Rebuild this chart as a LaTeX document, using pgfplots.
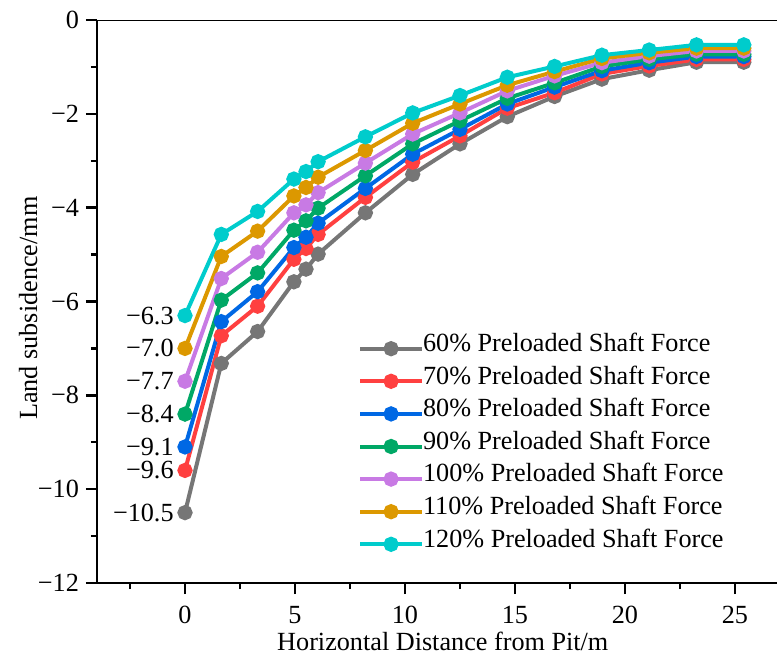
\documentclass[border=0pt]{standalone}
\usepackage{pgfplots}
\pgfplotsset{compat=1.18}
\usepackage{fontspec}
\setmainfont{Liberation Serif}
\usetikzlibrary{calc}
\definecolor{cgray}{RGB}{118,118,118}
\definecolor{cred}{RGB}{255,64,64}
\definecolor{cblue}{RGB}{0,104,228}
\definecolor{cgreen}{RGB}{0,168,102}
\definecolor{cpurple}{RGB}{200,122,228}
\definecolor{corange}{RGB}{220,152,0}
\definecolor{ccyan}{RGB}{0,204,204}
\begin{document}
\begin{tikzpicture}
\begin{axis}[
  scale only axis, width=341pt, height=281.5pt,
  xmin=-4, xmax=27, ymin=-12, ymax=0,
  axis x line*=bottom, axis y line*=left,
  x axis line style={-}, y axis line style={-},
  axis line style={line width=1.2pt},
  tick align=outside,
  xtick={0,5,10,15,20,25}, minor xtick={-2.5,2.5,7.5,12.5,17.5,22.5},
  ytick={-12,-10,-8,-6,-4,-2,0}, yticklabels={−12,−10,−8,−6,−4,−2,0},
  minor ytick={-11,-9,-7,-5,-3,-1},
  major tick length=5.5pt, minor tick length=3pt,
  every tick/.style={line width=1.2pt, black},
  font=\fontsize{13.1}{16}\selectfont,
  /pgf/number format/assume math mode=true,
  xticklabel style={yshift=-2.5pt},
  xlabel={Horizontal Distance from Pit/m},
  ylabel={Land subsidence/mm},
  xlabel style={at={(axis description cs:0.507,0)}, anchor=base, yshift=-33.5pt},
  ylabel style={at={(axis description cs:-0.101,0.488)}, anchor=center},
  legend style={draw=none, fill=none, at={(axis cs:7.85,-6.65)}, anchor=north west,
    inner sep=0pt, row sep=0pt, column sep=-0.5pt, cells={anchor=west},
    nodes={inner sep=0pt, text height=9.5pt, text depth=6.8pt},
    font=\fontsize{13.1}{16}\selectfont},
  legend image code/.code={\draw[mark repeat=2, mark phase=2] plot coordinates {(0pt,0pt)(15.5pt,0pt)(31pt,0pt)};},
  every axis plot/.append style={line width=2pt, mark=*, mark size=2.8pt, mark options={solid, line width=0.5pt}},
]
\addplot[cgray, mark options={fill=cgray}] coordinates {(0,-10.5)(1.65,-7.32)(3.3,-6.64)(4.95,-5.58)(5.5,-5.31)(6.05,-4.99)(8.2,-4.11)(10.35,-3.29)(12.5,-2.64)(14.65,-2.06)(16.8,-1.63)(18.95,-1.26)(21.1,-1.07)(23.25,-0.9)(25.4,-0.9)};
\addlegendentry{60\% Preloaded Shaft Force}
\addplot[cred, mark options={fill=cred}] coordinates {(0,-9.6)(1.65,-6.73)(3.3,-6.1)(4.95,-5.1)(5.5,-4.87)(6.05,-4.57)(8.2,-3.78)(10.35,-3.03)(12.5,-2.47)(14.65,-1.88)(16.8,-1.55)(18.95,-1.15)(21.1,-0.98)(23.25,-0.84)(25.4,-0.84)};
\addlegendentry{70\% Preloaded Shaft Force}
\addplot[cblue, mark options={fill=cblue}] coordinates {(0,-9.1)(1.65,-6.43)(3.3,-5.79)(4.95,-4.85)(5.5,-4.63)(6.05,-4.33)(8.2,-3.59)(10.35,-2.86)(12.5,-2.33)(14.65,-1.79)(16.8,-1.43)(18.95,-1.08)(21.1,-0.91)(23.25,-0.78)(25.4,-0.78)};
\addlegendentry{80\% Preloaded Shaft Force}
\addplot[cgreen, mark options={fill=cgreen}] coordinates {(0,-8.4)(1.65,-5.97)(3.3,-5.39)(4.95,-4.48)(5.5,-4.28)(6.05,-4.01)(8.2,-3.32)(10.35,-2.64)(12.5,-2.15)(14.65,-1.67)(16.8,-1.34)(18.95,-0.99)(21.1,-0.84)(23.25,-0.73)(25.4,-0.73)};
\addlegendentry{90\% Preloaded Shaft Force}
\addplot[cpurple, mark options={fill=cpurple}] coordinates {(0,-7.7)(1.65,-5.51)(3.3,-4.95)(4.95,-4.11)(5.5,-3.94)(6.05,-3.68)(8.2,-3.05)(10.35,-2.43)(12.5,-1.98)(14.65,-1.51)(16.8,-1.19)(18.95,-0.91)(21.1,-0.77)(23.25,-0.66)(25.4,-0.66)};
\addlegendentry{100\% Preloaded Shaft Force}
\addplot[corange, mark options={fill=corange}] coordinates {(0,-7.0)(1.65,-5.04)(3.3,-4.5)(4.95,-3.75)(5.5,-3.57)(6.05,-3.35)(8.2,-2.78)(10.35,-2.2)(12.5,-1.79)(14.65,-1.39)(16.8,-1.1)(18.95,-0.82)(21.1,-0.7)(23.25,-0.6)(25.4,-0.6)};
\addlegendentry{110\% Preloaded Shaft Force}
\addplot[ccyan, mark options={fill=ccyan}] coordinates {(0,-6.3)(1.65,-4.57)(3.3,-4.08)(4.95,-3.39)(5.5,-3.23)(6.05,-3.02)(8.2,-2.49)(10.35,-1.98)(12.5,-1.61)(14.65,-1.22)(16.8,-0.99)(18.95,-0.75)(21.1,-0.64)(23.25,-0.53)(25.4,-0.53)};
\addlegendentry{120\% Preloaded Shaft Force}
\addplot[forget plot, draw=none, mark=none, nodes near coords, point meta=explicit symbolic,
  nodes near coords style={anchor=east, xshift=-2.1pt, text=black, font=\fontsize{13.1}{16}\selectfont}]
  coordinates {(0,-6.3)[−6.3] (0,-7.0)[−7.0] (0,-7.7)[−7.7] (0,-8.4)[−8.4] (0,-9.1)[−9.1] (0,-9.6)[−9.6] (0,-10.5)[−10.5]};
\draw[line width=1.2pt] (rel axis cs:0,1) -- (rel axis cs:1,1);
\coordinate (bl) at (rel axis cs:0,0);
\coordinate (tr) at (rel axis cs:1,1);
\end{axis}
\pgfresetboundingbox
\useasboundingbox ($(bl)+(-48.5pt,-36pt)$) rectangle ($(tr)+(-1pt,10pt)$);
\end{tikzpicture}
\end{document}
